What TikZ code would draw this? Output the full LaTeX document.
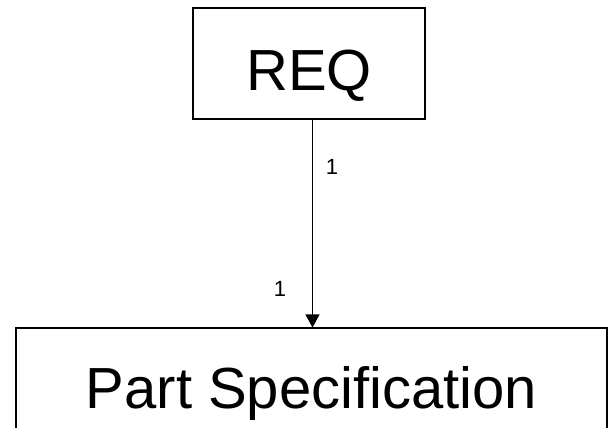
\documentclass[tikz,border=0pt]{standalone}
\usepackage{fontspec}
\setmainfont{Liberation Sans}
\usetikzlibrary{arrows.meta}
\begin{document}
\begin{tikzpicture}[x=1pt,y=-1pt,
  classbox/.style={draw=black,line width=1.1pt,rectangle,inner sep=0pt,
    font=\fontsize{58}{60}\selectfont},
  mult/.style={font=\fontsize{22}{24}\selectfont,inner sep=0pt,anchor=base},
  assoc/.style={line width=1.2pt,-{Triangle[length=13pt,width=14pt]}}]
  \useasboundingbox (0,0) rectangle (613,428);
  % classes
  \node[classbox,minimum width=232pt,minimum height=111pt,
        text height=53pt,text depth=0pt] (req) at (309,63.5) {REQ};
  \node[classbox,minimum width=591pt,minimum height=120pt,
        text height=44pt,text depth=4pt] (part) at (311.5,388) {Part Specification};
  % association with multiplicities
  \draw[assoc] ([xshift=3.5pt]req.south) -- ([xshift=1pt]part.north);
  \node[mult] (m1) at (332,174) {1};
  \node[mult] (m2) at (280,296) {1};
\end{tikzpicture}
\end{document}
